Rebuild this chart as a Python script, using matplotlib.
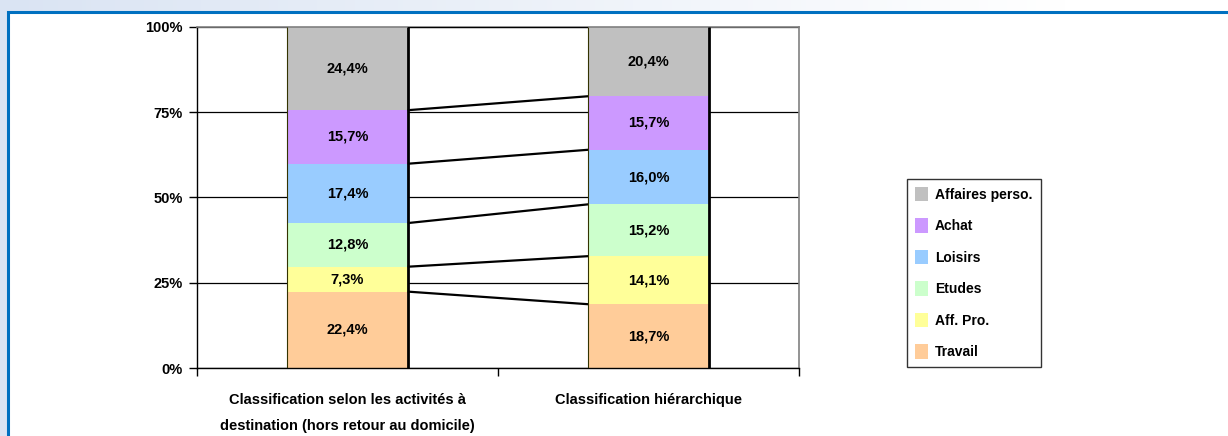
import numpy as np
import matplotlib.pyplot as plt
from matplotlib.patches import Rectangle, Patch

plt.rcParams['font.family'] = ['Liberation Sans', 'DejaVu Sans']
plt.rcParams['font.weight'] = 'bold'

categories = ["Classification selon les activités à\ndestination (hors retour au domicile)",
              "Classification hiérarchique"]
motifs = ["Travail", "Aff. Pro.", "Etudes", "Loisirs", "Achat", "Affaires perso."]
couleurs = ["#FFCC99", "#FFFF99", "#CCFFCC", "#99CCFF", "#CC99FF", "#C0C0C0"]
parts_activites = [22.4, 7.3, 12.8, 17.4, 15.7, 24.4]
parts_hierarchie = [18.7, 14.1, 15.2, 16.0, 15.7, 20.4]

W, H = 1228, 436
fig = plt.figure(figsize=(W / 100, H / 100), dpi=100)

# fond degrade bleu clair + cadre
bg = fig.add_axes([0, 0, 1, 1], zorder=-10)
grad = np.linspace(0, 1, 256)
r = 218 + (255 - 218) * np.clip(grad * 1.15, 0, 1)
g = 228 + (255 - 228) * np.clip(grad * 1.15, 0, 1)
b = 243 + (255 - 243) * np.clip(grad * 1.15, 0, 1)
img = np.stack([r, g, b], axis=-1)[None, :, :] / 255
bg.imshow(img, aspect='auto', extent=[0, 1, 0, 1])
bg.add_patch(Rectangle((8 / W, -0.1), 1.2, 1 - 12 / H + 0.1, facecolor='white',
                       edgecolor='#0070C0', lw=2.2, transform=bg.transAxes))
bg.set_xlim(0, 1)
bg.set_ylim(0, 1)
bg.axis('off')

ax = fig.add_axes([197 / W, 68 / H, 602 / W, 341 / H])
x = np.arange(len(categories))
larg = 0.4
series = np.array([parts_activites, parts_hierarchie])
bas = np.zeros(len(categories))
for i, (nom, c) in enumerate(zip(motifs, couleurs)):
    vals = series[:, i]
    ax.bar(x, vals, larg, bottom=bas, color=c, edgecolor='none', label=nom, zorder=2)
    for xi, v, b0 in zip(x, vals, bas):
        ax.text(xi, b0 + v / 2, f"{v:.1f}%".replace('.', ','), ha='center', va='center',
                fontsize=10.5, fontweight='bold', zorder=4)
    bas = bas + vals

# lignes de series entre les deux barres
cumul = np.cumsum(series, axis=1)
for j in range(cumul.shape[1]):
    ax.plot([x[0] + larg / 2, x[1] - larg / 2], [cumul[0, j], min(cumul[1, j], 100)],
            color='black', lw=1.6, zorder=3, solid_capstyle='butt')
for xi in x:
    ax.vlines(xi - larg / 2, 0, 100, color='#333300', lw=0.8, zorder=3)
    ax.vlines(xi + larg / 2, 0, 100, color='black', lw=2, zorder=3)

ax.set_xlim(-0.5, 1.5)
ax.set_ylim(0, 100)
ax.set_yticks([0, 25, 50, 75, 100])
ax.set_yticklabels(["0%", "25%", "50%", "75%", "100%"], fontsize=10.5, fontweight='bold')
ax.set_xticks([-0.5, 0.5, 1.5])
ax.set_xticklabels([])
ax.set_xticks(x, minor=True)
ax.set_xticklabels(categories, minor=True, fontsize=10.5, fontweight='bold', linespacing=2.1)
ax.tick_params(axis='x', which='minor', length=0, pad=18)
ax.tick_params(axis='x', which='major', length=6, width=1, direction='out')
ax.tick_params(axis='y', length=6, width=1, direction='out', pad=4)
ax.yaxis.grid(True, color='black', lw=0.9, zorder=1)
ax.set_axisbelow(True)
for s in ['top', 'right']:
    ax.spines[s].set_color('#808080')
    ax.spines[s].set_linewidth(1.2)
for s in ['left', 'bottom']:
    ax.spines[s].set_color('black')
    ax.spines[s].set_linewidth(1)

handles = [Patch(facecolor=c, edgecolor='none') for c in couleurs][::-1]
leg = fig.legend(handles, motifs[::-1], loc='center left',
                 bbox_to_anchor=(907 / W, 1 - 273 / H), fontsize=10,
                 frameon=True, fancybox=False, shadow=False, edgecolor='black',
                 handlelength=0.9, handleheight=1.2, handletextpad=0.5,
                 labelspacing=1.2, borderpad=0.6, borderaxespad=0)
leg.get_frame().set_linewidth(1)
for t in leg.get_texts():
    t.set_fontweight('bold')

fig.savefig('out.png', dpi=100)
